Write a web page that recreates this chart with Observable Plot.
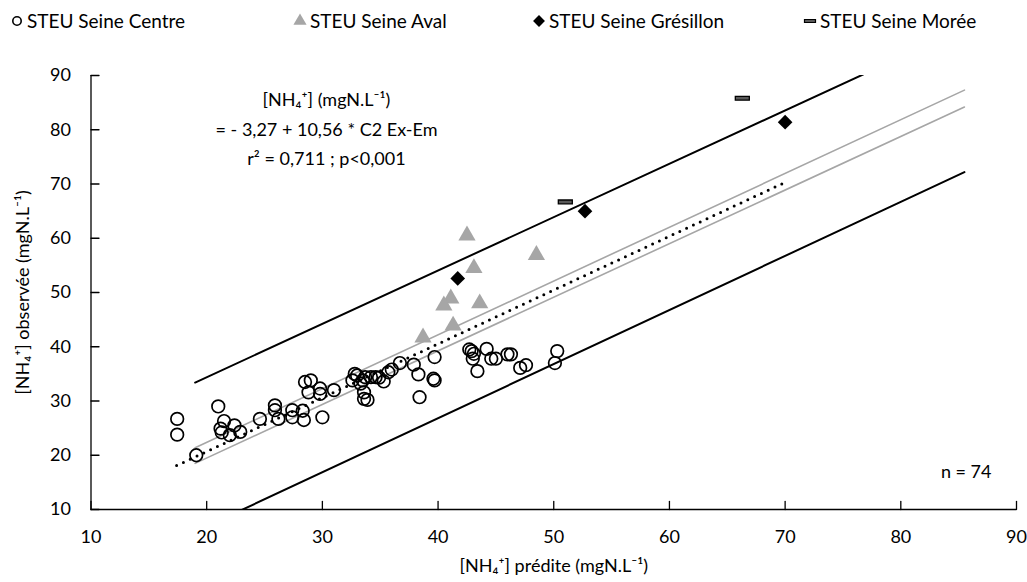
<!DOCTYPE html>
<html><head><meta charset="utf-8">
<script src="https://cdn.jsdelivr.net/npm/d3@7"></script>
<script src="https://cdn.jsdelivr.net/npm/@observablehq/plot@0.6"></script>
<style>
body{margin:0;background:#fff;font-family:Lato,"Open Sans",sans-serif;}
#legend{position:relative;width:1027px;height:40px;font-size:19px;color:#000}
.item{position:absolute;top:10px;display:flex;align-items:center;gap:2px;white-space:nowrap;line-height:22px}
.item svg{display:block}
</style></head><body>
<div id="legend"></div><div id="chart"></div>
<script>
// ---- data ----
const seriesNames = ["STEU Seine Centre", "STEU Seine Aval", "STEU Seine Grésillon", "STEU Seine Morée"];

const centreX = [17.45,17.45,21.0,21.5,21.2,22.4,22.0,22.9,19.1,24.6,25.9,25.9,26.2,27.4,27.4,28.4,28.3,28.5,29.0,28.8,29.8,29.8,30.0,31.0,
  32.8,32.6,33.3,33.0,33.7,34.2,34.6,34.9,35.3,33.6,33.6,33.9,35.7,36.0,36.7,37.9,38.3,38.4,39.6,39.7,39.7,
  42.7,42.9,43.1,43.0,43.4,44.2,44.6,45.0,46.0,46.3,47.1,47.6,50.3,50.1,21.3,33.5];
const centreY = [26.7,23.8,29.0,26.3,24.9,25.5,23.7,24.3,20.0,26.7,29.2,28.3,26.7,28.3,27.0,26.5,28.2,33.5,33.8,31.6,32.3,31.3,27.0,32.0,
  35.0,33.8,33.2,34.7,34.4,34.4,34.4,34.3,33.6,31.6,30.4,30.2,35.3,35.8,37.0,36.7,34.9,30.7,34.1,33.8,38.1,
  39.5,39.2,38.7,37.8,35.5,39.6,37.8,37.8,38.6,38.6,36.1,36.6,39.2,37.0,24.2,33.8];

const avalX = [42.5,48.5,43.1,41.1,40.5,43.6,41.3,38.7];
const avalY = [60.5,56.9,54.5,48.9,47.6,48.0,43.9,41.7];

const gresX = [41.7,52.7,70.0];
const gresY = [52.6,65.0,81.4];

const moreeX = [51.0,66.3];
const moreeY = [66.7,85.8];

// regression line and bands (read at their end points)
const fitX = [17.4, 69.8],  fitY = [18.1, 70.1];
const ciUpX = [19, 85.5],   ciUpY = [21.4, 87.3];
const ciLoX = [19, 85.5],   ciLoY = [18.5, 84.2];
const piUpX = [19, 85.5],   piUpY = [33.4, 98.8];
const piLoX = [19, 85.5],   piLoY = [5.9, 72.2];

const xDomain = [10, 90], yDomain = [10, 90];
const xTicks = [10,20,30,40,50,60,70,80,90];
const yTicks = [10,20,30,40,50,60,70,80,90];

const xLabel = "[NH₄⁺] prédite (mgN.L⁻¹)";
const yLabel = "[NH₄⁺] observée (mgN.L⁻¹)";
const annotLines = ["[NH₄⁺] (mgN.L⁻¹)", "= - 3,27 + 10,56 * C2 Ex-Em", "r² = 0,711 ; p<0,001"];
const nTotal = centreX.length + avalX.length + gresX.length + moreeX.length;

// ---- build tables ----
const pts = (xs, ys) => xs.map((x, i) => ({x, y: ys[i]}));
const centre = pts(centreX, centreY), aval = pts(avalX, avalY), gres = pts(gresX, gresY), moree = pts(moreeX, moreeY);

const dashSymbol = {draw(context, size) {
  const r = Math.sqrt(size / Math.PI);
  const w = 2 * r, h = 0.55 * r;
  context.moveTo(-w/2, -h/2); context.lineTo(w/2, -h/2); context.lineTo(w/2, h/2); context.lineTo(-w/2, h/2); context.closePath();
}};
// straight tick shape for inward axis ticks
const tickShape = {draw(context, l) { context.moveTo(0, 0); context.lineTo(0, -l); }};

// ---- legend ----
const legendLeft = [9, 292, 531, 802];
const legendDefs = [
  {type: d3.symbolCircle, size: Math.PI*4.2*4.2, fill: "none", stroke: "#000", sw: 1.6},
  {type: d3.symbolTriangle, size: 75, fill: "#a6a6a6", stroke: "none", sw: 0},
  {type: d3.symbolDiamond2, size: 90, fill: "#000", stroke: "none", sw: 0},
  {type: dashSymbol, size: Math.PI*5.5*5.5, fill: "#595959", stroke: "#000", sw: 1.2}
];
seriesNames.forEach((name, i) => {
  const item = d3.select("#legend").append("div").attr("class", "item").style("left", legendLeft[i] + "px");
  const s = item.append("svg").attr("width", 16).attr("height", 16);
  const def = legendDefs[i];
  s.append("path").attr("transform", "translate(8,8)")
    .attr("d", d3.symbol(def.type, def.size)())
    .attr("fill", def.fill).attr("stroke", def.stroke).attr("stroke-width", def.sw);
  item.append("span").text(name);
});

// ---- chart ----
const chart = Plot.plot({
  width: 1027, height: 542,
  marginTop: 35, marginBottom: 73, marginLeft: 90.5, marginRight: 11,
  style: {fontFamily: "Lato, 'Open Sans', sans-serif", fontSize: "18px", color: "#000", background: "#fff"},
  x: {domain: xDomain},
  y: {domain: yDomain},
  marks: [
    Plot.line(pts(piUpX, piUpY), {x: "x", y: "y", stroke: "#000", strokeWidth: 2, clip: true}),
    Plot.line(pts(piLoX, piLoY), {x: "x", y: "y", stroke: "#000", strokeWidth: 2, clip: true}),
    Plot.line(pts(ciUpX, ciUpY), {x: "x", y: "y", stroke: "#a6a6a6", strokeWidth: 1.6, clip: true}),
    Plot.line(pts(ciLoX, ciLoY), {x: "x", y: "y", stroke: "#a6a6a6", strokeWidth: 1.6, clip: true}),
    Plot.line(pts(fitX, fitY), {x: "x", y: "y", stroke: "#000", strokeWidth: 3, strokeDasharray: "0 7.5", strokeLinecap: "round", clip: true}),
    Plot.dot(centre, {x: "x", y: "y", r: 6.3, stroke: "#000", strokeWidth: 1.7, fill: "none"}),
    Plot.dot(aval, {x: "x", y: "y", symbol: "triangle", r: 6.4, fill: "#a6a6a6", stroke: "none"}),
    Plot.dot(gres, {x: "x", y: "y", symbol: "diamond2", r: 6.6, fill: "#000", stroke: "none"}),
    Plot.dot(moree, {x: "x", y: "y", symbol: dashSymbol, r: 7, fill: "#595959", stroke: "#000", strokeWidth: 1.3}),
    Plot.ruleX([xDomain[0]], {stroke: "#000", strokeWidth: 1.3}),
    Plot.ruleY([yDomain[0]], {stroke: "#000", strokeWidth: 1.3}),
    // inward tick marks
    Plot.vector(xTicks, {x: d => d, y: yDomain[0], length: 8, rotate: 0, anchor: "start", shape: tickShape, stroke: "#000", strokeWidth: 1.3}),
    Plot.vector(yTicks, {x: xDomain[0], y: d => d, length: 8, rotate: 90, anchor: "start", shape: tickShape, stroke: "#000", strokeWidth: 1.3}),
    Plot.axisX({ticks: xTicks, tickSize: 0, tickPadding: 21, label: null, fill: "#000"}),
    Plot.axisY({ticks: yTicks, tickSize: 0, tickPadding: 20, label: null, fill: "#000"}),
    Plot.text([xLabel], {frameAnchor: "bottom", dy: 62, textAnchor: "middle", fill: "#000"}),
    Plot.text([yLabel], {frameAnchor: "left", dx: -68, rotate: -90, textAnchor: "middle", fill: "#000"}),
    Plot.text([annotLines.join("\n")], {frameAnchor: "top-left", dx: 235.5, dy: 10, lineAnchor: "top", lineHeight: 1.64, textAnchor: "middle", fill: "#000"}),
    Plot.text([`n = ${nTotal}`], {frameAnchor: "bottom-right", dx: -25, dy: -32, textAnchor: "end", fill: "#000"})
  ]
});
document.getElementById("chart").appendChild(chart);
</script>
</body></html>
